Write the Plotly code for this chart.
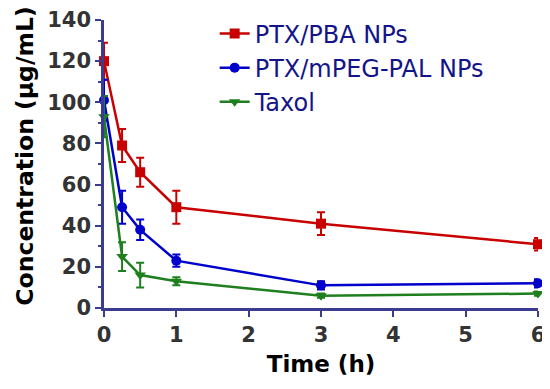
import plotly.graph_objects as go

time_h = [0, 0.25, 0.5, 1, 3, 6]
pba_vals = [120, 79, 66, 49, 41, 31]
pba_err = [9, 8, 7, 8, 5.5, 3]
peg_vals = [101, 49, 38, 23, 11, 12]
peg_err = [10, 8, 5, 3, 2, 2]
taxol_vals = [93, 25, 16, 13, 6, 7]
taxol_err = [10, 7, 6, 2, 1, 1]

series = [
    ("PTX/PBA NPs", pba_vals, pba_err, "#c80000", "square"),
    ("PTX/mPEG-PAL NPs", peg_vals, peg_err, "#0000cc", "circle"),
    ("Taxol", taxol_vals, taxol_err, "#1f7f1f", "triangle-down"),
]

fig = go.Figure()
for name, vals, err, color, sym in series:
    fig.add_trace(go.Scatter(
        x=time_h, y=vals, name=name, mode="lines+markers",
        line=dict(color=color, width=2.5),
        marker=dict(symbol=sym, size=10, color=color),
        error_y=dict(type="data", array=err, visible=True, color=color, thickness=2, width=4),
        cliponaxis=False,
    ))

bold_font = "DejaVu Sans, sans-serif"
axis_color = "#3b3b8f"
# page body has an 8px default margin, so the figure is sized to fit the window
fig.update_layout(
    width=542, height=381,
    margin=dict(l=96, r=12, t=12, b=81, autoexpand=False),
    paper_bgcolor="white", plot_bgcolor="white",
    font=dict(family=bold_font),
    showlegend=True,
    legend=dict(x=0.255, y=1.03, xanchor="left", yanchor="top",
                font=dict(size=24, color="#14148a", family="DejaVu Sans, sans-serif"),
                bgcolor="rgba(0,0,0,0)", itemwidth=30),
    xaxis=dict(range=[0, 6], tickvals=[0, 1, 2, 3, 4, 5, 6], ticks="outside",
               ticklen=6, tickwidth=2, tickcolor=axis_color, automargin=False,
               showline=True, linecolor=axis_color, linewidth=2.5,
               showgrid=False, zeroline=False,
               tickfont=dict(size=21, color="#333333", family=bold_font, weight="bold"),
               title=dict(text="Time (h)", font=dict(size=23, color="black", family=bold_font, weight="bold"), standoff=10)),
    yaxis=dict(range=[0, 140], tickvals=[0, 20, 40, 60, 80, 100, 120, 140], ticks="outside",
               ticklen=6, tickwidth=2, tickcolor=axis_color, automargin=False,
               minor=dict(dtick=10, ticks="outside", ticklen=3, tickwidth=2, tickcolor=axis_color),
               showline=True, linecolor=axis_color, linewidth=2.5,
               showgrid=False, zeroline=False,
               tickfont=dict(size=21, color="#333333", family=bold_font, weight="bold")),
    annotations=[dict(text="Concentration (μg/mL)", textangle=-90, showarrow=False,
                      xref="paper", yref="paper", x=-0.184, y=0.526,
                      xanchor="center", yanchor="middle",
                      font=dict(size=23.5, color="black", family=bold_font, weight="bold"))],
)

fig.write_html("out.html")
